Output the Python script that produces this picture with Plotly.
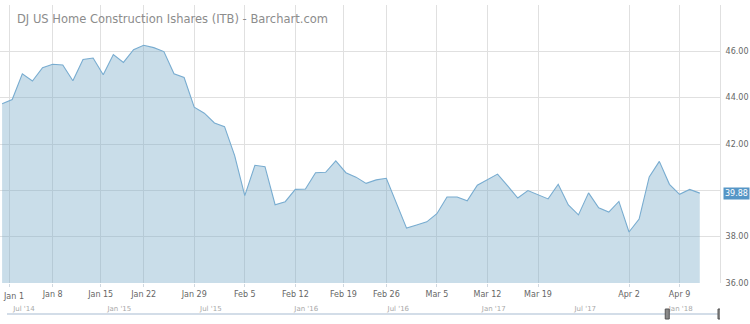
import pandas as pd
import plotly.graph_objects as go

# ---- data ----
holidays = ["2018-01-01", "2018-01-15", "2018-02-19", "2018-03-30"]
dates = pd.bdate_range("2017-12-29", "2018-04-11", freq="C", holidays=holidays)
dates = [d.strftime("%Y-%m-%d") for d in dates]

closes = [
    43.74, 43.92, 45.03, 44.72, 45.29,
    45.44, 45.41, 44.73, 45.65, 45.71,
    44.99, 45.86, 45.52, 46.07,
    46.26, 46.16, 45.99, 45.03, 44.87,
    43.59, 43.33, 42.91, 42.75, 41.50,
    39.77, 41.08, 41.02, 39.38, 39.51,
    40.04, 40.06, 40.76, 40.78, 41.27,
    40.76, 40.57, 40.30, 40.45,
    40.52, 39.45, 38.37, 38.50, 38.64,
    38.99, 39.71, 39.71, 39.55, 40.22,
    40.47, 40.70, 40.19, 39.67, 39.99,
    39.80, 39.63, 40.26, 39.37, 38.94,
    39.89, 39.25, 39.06, 39.52,
    38.20, 38.76, 40.58, 41.25, 40.26,
    39.83, 40.04, 39.88,
]

x_tick_dates = ["2018-01-01", "2018-01-08", "2018-01-15", "2018-01-22", "2018-01-29",
                "2018-02-05", "2018-02-12", "2018-02-19", "2018-02-26", "2018-03-05",
                "2018-03-12", "2018-03-19", "2018-04-02", "2018-04-09"]
x_tick_labels = ["Jan 1", "Jan 8", "Jan 15", "Jan 22", "Jan 29",
                 "Feb 5", "Feb 12", "Feb 19", "Feb 26", "Mar 5", "Mar 12", "Mar 19",
                 "Apr 2", "Apr 9"]

y_tick_vals = [36, 38, 40, 42, 44, 46, 48]
# 40.00 is hidden behind the last-price badge in the reference, 48 is unlabeled
y_tick_labels = ["36.00", "38.00", "", "42.00", "44.00", "46.00", ""]

nav_tick_dates = ["2014-07-01", "2015-01-01", "2015-07-01", "2016-01-01",
                  "2016-07-01", "2017-01-01", "2017-07-01", "2018-01-01"]
nav_tick_labels = ["Jul '14", "Jan '15", "Jul '15", "Jan '16",
                   "Jul '16", "Jan '17", "Jul '17", "Jan '18"]
nav_range = ["2014-06-19", "2018-04-11"]

title_text = "DJ US Home Construction Ishares (ITB) - Barchart.com"

# ---- style ----
GRID = "#e0e0e0"
H = 324
TOP = 5
PAPER_H = H - TOP
TICK_FONT = dict(family="DejaVu Sans", size=8, color="#666666")

fig = go.Figure()
fig.add_trace(go.Scatter(
    x=dates, y=closes, mode="lines",
    line=dict(color="#78acd0", width=1.1),
    fill="tozeroy", fillcolor="rgba(120,170,200,0.40)",
    hoverinfo="skip", showlegend=False,
))

# Monday holidays: split the missing day so the holiday tick sits 3/4 of the
# way between the surrounding trading days (like an ordinal time axis).
mon_holidays = ["2018-01-01", "2018-01-15", "2018-02-19"]
fri_before = ["2017-12-29 18:00", "2018-01-12 18:00", "2018-02-16 18:00"]
mon_after = [h + " 06:00" for h in mon_holidays]

# first label is justified inside the chart (drawn separately)
axis_tick_text = [""] + x_tick_labels[1:]

fig.update_layout(
    width=750, height=H,
    margin=dict(l=0, r=30, t=TOP, b=0, autoexpand=False),
    paper_bgcolor="white", plot_bgcolor="white",
    font=TICK_FONT,
    title=dict(text=title_text, x=17 / 750, xref="container", xanchor="left",
               y=1 - 18.5 / H, yref="container", yanchor="middle",
               font=dict(family="DejaVu Sans", size=11.5, color="#8c8c8c")),
    xaxis=dict(
        type="date",
        range=["2017-12-28 19:00", "2018-04-13"],
        rangebreaks=[
            dict(bounds=["sat", "mon"]),
            dict(values=["2018-03-30"]),
            dict(values=fri_before, dvalue=6 * 3600 * 1000),
            dict(values=mon_after, dvalue=18 * 3600 * 1000),
        ],
        tickmode="array", tickvals=x_tick_dates, ticktext=axis_tick_text,
        automargin=False,
        showgrid=True, gridcolor=GRID, gridwidth=1,
        ticks="outside", ticklen=3, tickcolor="#d0d8e0",
        tickfont=TICK_FONT,
        showline=False, zeroline=False, fixedrange=True,
        anchor="y",
    ),
    yaxis=dict(
        domain=[(H - 283) / PAPER_H, 1],
        range=[36, 48], side="right", automargin=False,
        tickmode="array", tickvals=y_tick_vals, ticktext=y_tick_labels,
        showgrid=True, gridcolor=GRID, gridwidth=1,
        ticks="outside", ticklen=3, tickcolor="rgba(0,0,0,0)",
        tickfont=TICK_FONT,
        showline=True, linecolor=GRID, linewidth=1,
        zeroline=False, fixedrange=True,
    ),
    xaxis2=dict(
        type="date", range=nav_range, domain=[7 / 720, 1], anchor="y2",
        tickmode="array", tickvals=nav_tick_dates, ticktext=nav_tick_labels,
        ticklabelposition="outside right", ticklabeloverflow="allow",
        automargin=False,
        tickfont=dict(family="DejaVu Sans", size=7, color="#a8a8a8"),
        showgrid=False, showline=False,
        ticks="", ticklen=0, zeroline=False, fixedrange=True,
    ),
    yaxis2=dict(
        domain=[(H - 303) / PAPER_H, (H - 298) / PAPER_H], range=[0, 1],
        visible=False, fixedrange=True, automargin=False,
    ),
)

# first x label, nudged right so it stays inside the chart
fig.add_annotation(
    x=x_tick_dates[0], xref="x", xanchor="center", xshift=4,
    y=0, yref="y domain", yanchor="top", yshift=-8,
    text=x_tick_labels[0], showarrow=False, font=TICK_FONT, borderpad=0,
)

# navigator outline
fig.add_shape(type="line", xref="x2 domain", yref="paper",
              x0=0, x1=1, y0=(H - 314) / PAPER_H, y1=(H - 314) / PAPER_H,
              line=dict(color="#c4d2e0", width=1.5), layer="below")

# navigator handles at the ends of the shown data
for d in (dates[0], dates[-1]):
    fig.add_shape(type="rect", xref="x2", yref="paper",
                  xsizemode="pixel", xanchor=d, x0=-2, x1=2,
                  y0=(H - 319) / PAPER_H, y1=(H - 309) / PAPER_H,
                  fillcolor="#8a8a8a", line=dict(color="#555555", width=1),
                  layer="above")

# last value badge
fig.add_annotation(
    x=1, xref="paper", xanchor="left", xshift=3,
    y=closes[-1], yref="y", yanchor="middle",
    text=f"{closes[-1]:.2f}", showarrow=False,
    font=dict(family="DejaVu Sans", size=8, color="white"),
    bgcolor="#5696c6", borderpad=1,
)

fig.write_html("out.html")
